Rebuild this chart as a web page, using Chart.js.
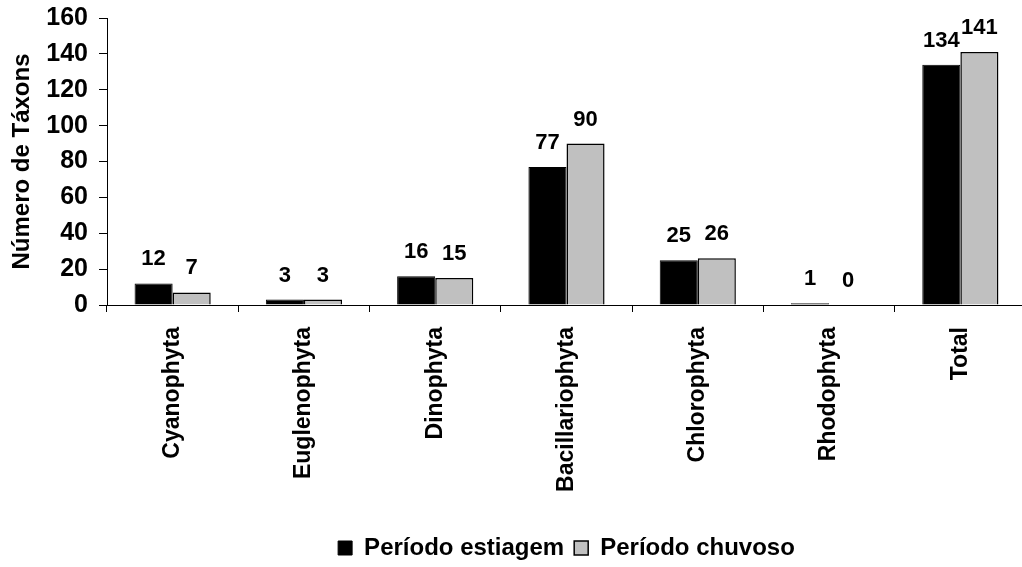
<!DOCTYPE html>
<html lang="pt">
<head>
<meta charset="utf-8">
<title>Número de Táxons por divisão</title>
<script src="https://cdn.jsdelivr.net/npm/chart.js@4/dist/chart.umd.min.js"></script>
<style>
    html, body {
        margin: 0;
        padding: 0;
        background: #ffffff;
        overflow: hidden;
    }
    #wrap {
        width: 1022px;
        height: 567px;
        overflow: hidden;
    }
</style>
</head>
<body>
<div id="wrap">
    <canvas id="taxonChart" width="1026" height="570"></canvas>
</div>
<script>
// Values
const divisoes = ['Cyanophyta', 'Euglenophyta', 'Dinophyta', 'Bacillariophyta', 'Chlorophyta', 'Rhodophyta', 'Total'];
const estiagem = [12, 3, 16, 77, 25, 1, 134];
const chuvoso = [7, 3, 15, 90, 26, 0, 141];
const yTicks = [0, 20, 40, 60, 80, 100, 120, 140, 160];

const FONT = "'Liberation Sans', Arial, sans-serif";

let taxonChart = null;

// Draws the value above each bar
const barValues = {
    id: 'barValues',
    afterDatasetsDraw(chart) {
        const ctx = chart.ctx;
        ctx.save();
        ctx.font = 'bold 22px ' + FONT;
        ctx.fillStyle = '#000000';
        ctx.textAlign = 'center';
        ctx.textBaseline = 'alphabetic';
        chart.data.datasets.forEach((dataset, i) => {
            const meta = chart.getDatasetMeta(i);
            meta.data.forEach((bar, j) => {
                ctx.fillText(String(dataset.data[j]), bar.x, bar.y - 18);
            });
        });
        ctx.restore();
    }
};

document.addEventListener('DOMContentLoaded', function() {
    initializeChart();
});

function initializeChart() {
    const ctx = document.getElementById('taxonChart').getContext('2d');
    taxonChart = new Chart(ctx, {
        type: 'bar',
        data: {
            labels: divisoes,
            datasets: [
                {
                    label: 'Período estiagem',
                    data: estiagem,
                    backgroundColor: '#000000',
                    borderColor: '#000000',
                    borderWidth: 1
                },
                {
                    label: 'Período chuvoso',
                    data: chuvoso,
                    backgroundColor: '#c0c0c0',
                    borderColor: '#000000',
                    borderWidth: 1.5
                }
            ]
        },
        options: {
            responsive: false,
            animation: false,
            datasets: {
                bar: {
                    barPercentage: 1,
                    categoryPercentage: 0.58
                }
            },
            layout: {
                padding: { top: 18, left: 0, right: 0, bottom: 0 }
            },
            scales: {
                x: {
                    grid: {
                        display: true,
                        offset: true,
                        drawOnChartArea: false,
                        drawTicks: true,
                        tickLength: 7,
                        color: '#000000'
                    },
                    border: { display: true, color: '#000000', width: 1 },
                    ticks: {
                        color: '#000000',
                        font: { family: FONT, size: 23, weight: 'bold' },
                        minRotation: 90,
                        maxRotation: 90,
                        padding: 15,
                        autoSkip: false
                    },
                    afterFit(scale) {
                        scale.height = 221;
                    }
                },
                y: {
                    min: 0,
                    max: 160,
                    afterBuildTicks(scale) {
                        scale.ticks = yTicks.map(v => ({ value: v }));
                    },
                    grid: {
                        display: true,
                        drawOnChartArea: false,
                        drawTicks: true,
                        tickLength: 8,
                        color: '#000000'
                    },
                    border: { display: true, color: '#000000', width: 1 },
                    ticks: {
                        color: '#000000',
                        font: { family: FONT, size: 25, weight: 'bold' },
                        padding: 11
                    },
                    title: {
                        display: true,
                        text: 'Número de Táxons',
                        color: '#000000',
                        font: { family: FONT, size: 24, weight: 'bold' },
                        padding: { top: 8, bottom: 0 }
                    },
                    afterFit(scale) {
                        scale.width = 107;
                        // keep only half a label of room above and below
                        scale.paddingTop = 12;
                        scale.paddingBottom = 12;
                    }
                }
            },
            plugins: {
                legend: {
                    display: true,
                    position: 'bottom',
                    fullSize: false,
                    labels: {
                        color: '#000000',
                        font: { family: FONT, size: 24, weight: 'bold' },
                        boxWidth: 14,
                        boxHeight: 14,
                        padding: 10
                    }
                },
                tooltip: { enabled: false }
            }
        },
        plugins: [barValues]
    });
}
</script>
</body>
</html>
